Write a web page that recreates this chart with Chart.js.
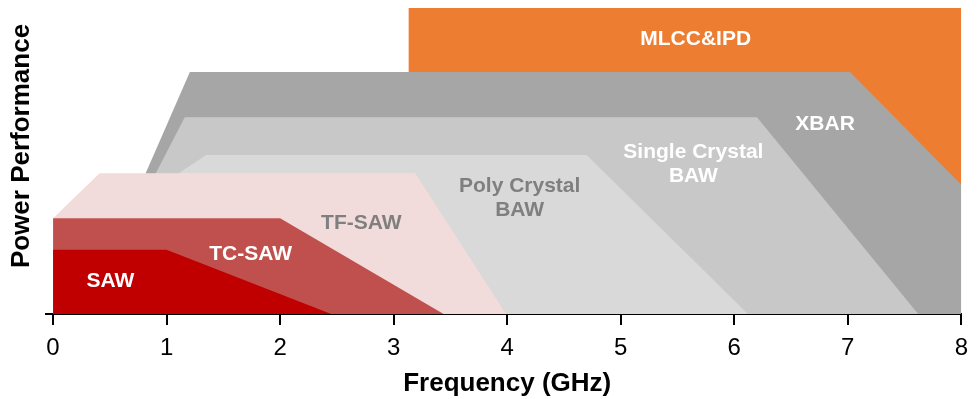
<!DOCTYPE html>
<html>
<head>
<meta charset="utf-8">
<title>Power Performance vs Frequency</title>
<script src="https://cdn.jsdelivr.net/npm/chart.js@4/dist/chart.umd.min.js"></script>
<style>
  html, body { margin: 0; padding: 0; background: #ffffff; }
  #wrap { width: 977px; height: 399px; }
</style>
</head>
<body>
<div id="wrap"><canvas id="chart" width="977" height="399"></canvas></div>
<script>
// Technology regions: outline of each area as (frequency GHz, relative power) vertices.
const sawFreq      = [0, 0, 1.0, 2.45];
const sawPower     = [0, 21, 21, 0];

const tcSawFreq    = [0, 0, 2.0, 3.44];
const tcSawPower   = [0, 31.3, 31.3, 0];

const tfSawFreq    = [0, 0, 0.41, 3.19, 3.99];
const tfSawPower   = [0, 31.3, 46, 46, 0];

const polyBawFreq  = [0, 0, 1.35, 4.70, 6.12];
const polyBawPower = [0, 19, 52, 52, 0];

const scBawFreq    = [0.265, 1.16, 6.20, 7.62];
const scBawPower   = [0, 64.3, 64.3, 0];

const xbarFreq     = [0.275, 1.205, 7.02, 8, 8];
const xbarPower    = [0, 79.1, 79.1, 42.2, 0];

const mlccFreq     = [3.13, 3.13, 8, 8];
const mlccPower    = [0, 100, 100, 0];

// Axis ticks (GHz)
const freqTicks = [0, 1, 2, 3, 4, 5, 6, 7, 8];

// Region names and where they sit (frequency, power)
const regionNames = ['MLCC&IPD', 'XBAR', ['Single Crystal', 'BAW'], ['Poly Crystal', 'BAW'], 'TF-SAW', 'TC-SAW', 'SAW'];
const nameFreq    = [5.66, 6.80, 5.64, 4.11, 2.715, 1.74, 0.506];
const namePower   = [89.8, 62.1, 49.0, 37.9, 29.6, 19.5, 10.7];
const nameColors  = ['#ffffff', '#ffffff', '#ffffff', '#7f7f7f', '#7f7f7f', '#ffffff', '#ffffff'];

const FONT = '"Liberation Sans", Arial, Helvetica, sans-serif';
Chart.defaults.font.family = FONT;

function pts(xs, ys) { return xs.map((x, i) => ({ x: x, y: ys[i] })); }

function region(label, xs, ys, color) {
  return {
    label: label,
    data: pts(xs, ys),
    backgroundColor: color,
    borderColor: 'transparent',
    borderWidth: 0,
    pointRadius: 0,
    pointHoverRadius: 0,
    tension: 0,
    fill: 'origin'
  };
}

// Front-most region first: Chart.js paints index 0 last.
const datasets = [
  region('SAW', sawFreq, sawPower, '#c00000'),
  region('TC-SAW', tcSawFreq, tcSawPower, '#c0504d'),
  region('TF-SAW', tfSawFreq, tfSawPower, '#f2dcdb'),
  region('Poly Crystal BAW', polyBawFreq, polyBawPower, '#d9d9d9'),
  region('Single Crystal BAW', scBawFreq, scBawPower, '#c8c8c8'),
  region('XBAR', xbarFreq, xbarPower, '#a6a6a6'),
  region('MLCC&IPD', mlccFreq, mlccPower, '#ed7d31')
];

const regionLabels = {
  id: 'regionLabels',
  afterDatasetsDraw(chart) {
    const { ctx, scales: { x, y } } = chart;
    ctx.save();
    ctx.font = 'bold 21px ' + FONT;
    ctx.textAlign = 'center';
    ctx.textBaseline = 'middle';
    regionNames.forEach((name, i) => {
      const lines = Array.isArray(name) ? name : [name];
      const cx = x.getPixelForValue(nameFreq[i]);
      const cy = y.getPixelForValue(namePower[i]);
      const lh = 24;
      ctx.fillStyle = nameColors[i];
      lines.forEach((t, j) => {
        ctx.fillText(t, cx, cy + (j - (lines.length - 1) / 2) * lh);
      });
    });
    ctx.restore();
  }
};

const axisTitles = {
  id: 'axisTitles',
  afterDraw(chart) {
    const { ctx, chartArea, scales: { x } } = chart;
    ctx.save();
    ctx.fillStyle = '#000000';
    ctx.font = 'bold 26px ' + FONT;
    ctx.textAlign = 'center';
    ctx.textBaseline = 'middle';
    ctx.fillText('Frequency (GHz)', x.getPixelForValue(4), chart.height - 15);
    ctx.translate(22, chartArea.top + 138);
    ctx.rotate(-Math.PI / 2);
    ctx.fillText('Power Performance', 0, 0);
    ctx.restore();
  }
};

new Chart(document.getElementById('chart'), {
  type: 'line',
  data: { datasets: datasets },
  options: {
    responsive: false,
    animation: false,
    events: [],
    layout: { padding: { left: 46, right: 14, top: 8, bottom: 0 } },
    plugins: {
      legend: { display: false },
      tooltip: { enabled: false },
      title: { display: false }
    },
    scales: {
      x: {
        type: 'linear',
        min: -0.062,
        max: 8,
        afterBuildTicks(scale) { scale.ticks = freqTicks.map(v => ({ value: v })); },
        afterFit(scale) { scale.height = 85; },
        border: { display: true, color: '#000000', width: 2 },
        grid: { display: true, drawOnChartArea: false, drawTicks: true, tickLength: 11, color: '#000000', lineWidth: 2 },
        ticks: { color: '#000000', font: { size: 24 }, padding: 9, maxRotation: 0, autoSkip: false }
      },
      y: {
        type: 'linear',
        min: 0,
        max: 100,
        display: false
      }
    }
  },
  plugins: [regionLabels, axisTitles]
});
</script>
</body>
</html>
